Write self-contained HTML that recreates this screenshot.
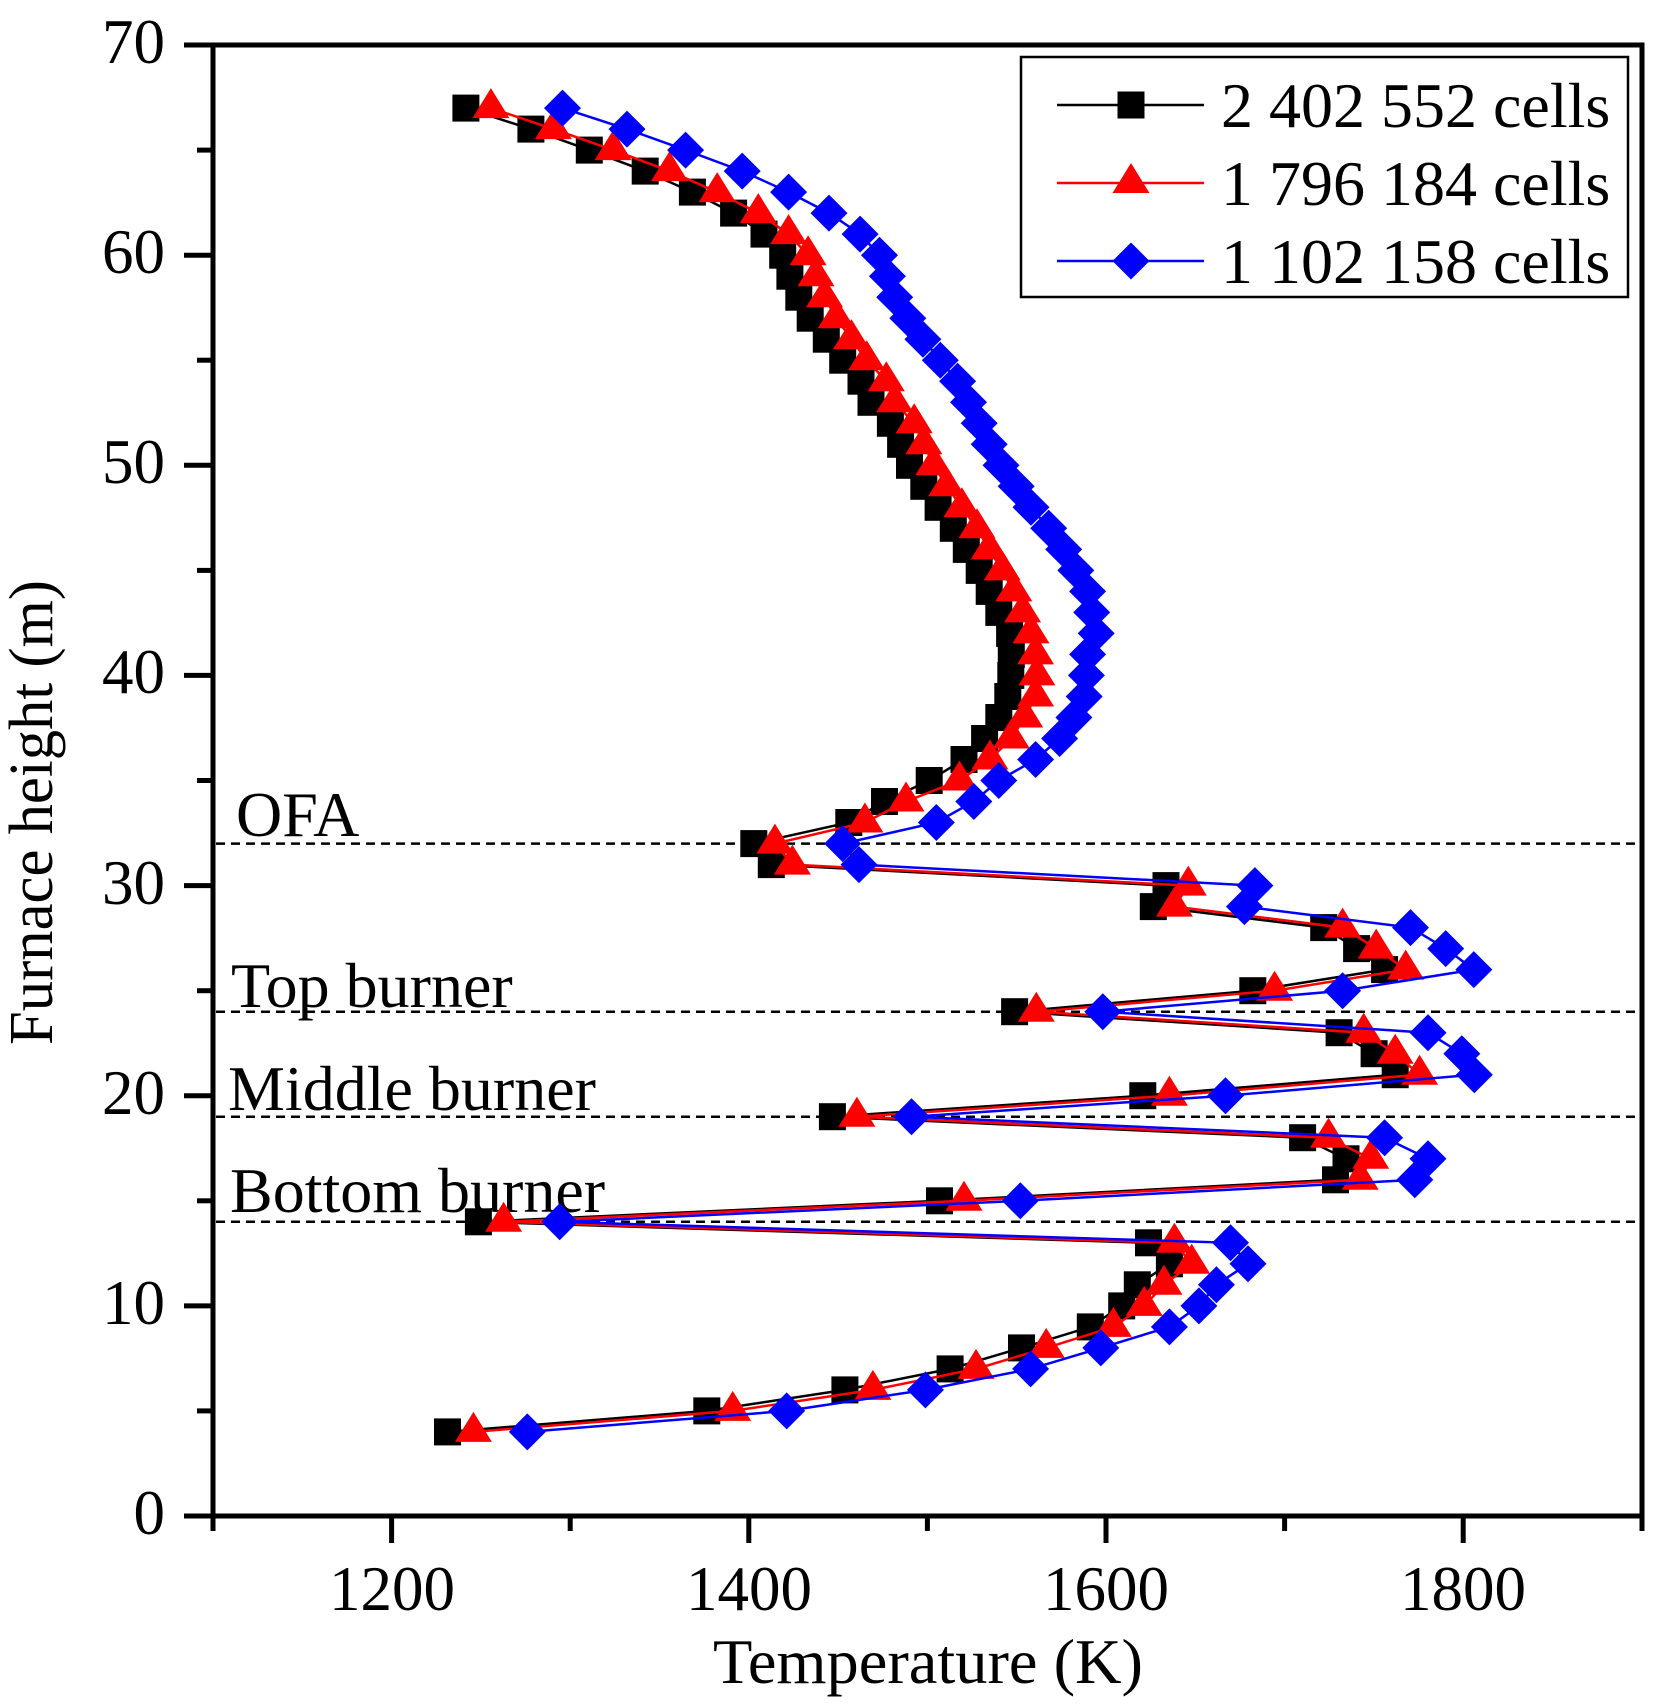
<!DOCTYPE html>
<html>
<head>
<meta charset="utf-8">
<style>
html,body{margin:0;padding:0;background:#fff;}
svg{display:block;}
text{font-family:"Liberation Serif","Times New Roman",serif;fill:#000;}
</style>
</head>
<body>
<svg width="1669" height="1706" viewBox="0 0 1669 1706" xmlns="http://www.w3.org/2000/svg">
<defs>
<marker id="msq" markerUnits="userSpaceOnUse" markerWidth="30" markerHeight="30" refX="15" refY="15" orient="0" overflow="visible">
<rect x="1.5" y="1.5" width="27" height="27" fill="#000"/>
</marker>
<marker id="mtri" markerUnits="userSpaceOnUse" markerWidth="40" markerHeight="34" refX="20" refY="21" orient="0" overflow="visible">
<polygon points="20,1 38.5,31 1.5,31" fill="#ff0000"/>
</marker>
<marker id="mdia" markerUnits="userSpaceOnUse" markerWidth="40" markerHeight="40" refX="20" refY="20" orient="0" overflow="visible">
<polygon points="20,1.5 38.5,20 20,38.5 1.5,20" fill="#0000ff"/>
</marker>
</defs>

<!-- dashed reference lines -->
<g stroke="#000" stroke-width="2.5" stroke-dasharray="9,6" fill="none">
<line x1="216" y1="843.6" x2="1640" y2="843.6"/>
<line x1="216" y1="1011.7" x2="1640" y2="1011.7"/>
<line x1="216" y1="1116.7" x2="1640" y2="1116.7"/>
<line x1="216" y1="1221.8" x2="1640" y2="1221.8"/>
</g>

<!-- annotations -->
<text x="236" y="836" font-size="64">OFA</text>
<text x="231" y="1007" font-size="64">Top burner</text>
<text x="228" y="1110" font-size="64">Middle burner</text>
<text x="230" y="1212" font-size="64">Bottom burner</text>

<!-- black series -->
<polyline fill="none" stroke="#000" stroke-width="2.5" marker-start="url(#msq)" marker-mid="url(#msq)" marker-end="url(#msq)"
points="447.5,1431.9 706.8,1410.9 844.9,1389.9 950.1,1368.9 1021.5,1347.9 1090.3,1326.9 1121.7,1305.9 1137.3,1284.8 1169.4,1263.8 1148.5,1242.8 478.4,1221.8 939.5,1200.8 1335.5,1179.8 1346,1158.8 1302.6,1137.7 832.4,1116.7 1142.8,1095.7 1395.2,1074.7 1374.1,1053.7 1339.1,1032.7 1014.6,1011.7 1252.8,990.7 1384.6,969.6 1356.6,948.6 1323.7,927.6 1153.3,906.6 1166,885.6 771.3,864.6 753.8,843.6 848.8,822.5 884.5,801.5 929.2,780.5 964,759.5 984.6,738.5 998.8,717.5 1007.8,696.5 1010.8,675.4 1011.3,654.4 1009.6,633.4 998.8,612.4 989.2,591.4 979.2,570.4 966.3,549.4 953.3,528.3 938.1,507.3 923.8,486.3 909.5,465.3 900.6,444.3 890.4,423.3 871,402.3 861,381.2 842.7,360.2 826.3,339.2 810.2,318.2 798.8,297.2 789.9,276.2 782.7,255.2 764,234.1 733.6,213.1 692.4,192.1 645.2,171.1 589.3,150.1 530.9,129.1 465.9,108.1"/>

<!-- red series -->
<polyline fill="none" stroke="#ff0000" stroke-width="2.5" marker-start="url(#mtri)" marker-mid="url(#mtri)" marker-end="url(#mtri)"
points="473.4,1431.9 732.7,1410.9 872.9,1389.9 976,1368.9 1046.2,1347.9 1113.3,1326.9 1144.2,1305.9 1163.9,1284.8 1191.7,1263.8 1174.4,1242.8 503.6,1221.8 964,1200.8 1360.2,1179.8 1370.7,1158.8 1328.5,1137.7 856.9,1116.7 1169.4,1095.7 1419.6,1074.7 1395.2,1053.7 1363.7,1032.7 1036.3,1011.7 1274.6,990.7 1405.7,969.6 1376.2,948.6 1342.6,927.6 1174.4,906.6 1188.3,885.6 792.4,864.6 774.9,843.6 864.9,822.5 906,801.5 959.5,780.5 989.9,759.5 1011.3,738.5 1024.7,717.5 1035.6,696.5 1036.9,675.4 1035.6,654.4 1031,633.4 1022.6,612.4 1013.8,591.4 1002.2,570.4 989.2,549.4 977,528.3 961.9,507.3 946.7,486.3 933.8,465.3 923.8,444.3 914.2,423.3 894.7,402.3 886.3,381.2 866.7,360.2 851.5,339.2 836.3,318.2 824.5,297.2 816,276.2 808.1,255.2 788.6,234.1 758.3,213.1 717.2,192.1 669.5,171.1 613.1,150.1 553.4,129.1 490.9,108.1"/>

<!-- blue series -->
<polyline fill="none" stroke="#0000ff" stroke-width="2.5" marker-start="url(#mdia)" marker-mid="url(#mdia)" marker-end="url(#mdia)"
points="527.3,1431.9 786.7,1410.9 925.4,1389.9 1030.6,1368.9 1100.8,1347.9 1169.4,1326.9 1198.9,1305.9 1216.4,1284.8 1248,1263.8 1230.5,1242.8 559.7,1221.8 1020.3,1200.8 1414.8,1179.8 1428,1158.8 1384.6,1137.7 911.5,1116.7 1225.5,1095.7 1474.3,1074.7 1461.8,1053.7 1428,1032.7 1102.8,1011.7 1342.6,990.7 1473.8,969.6 1445.7,948.6 1410.5,927.6 1244.4,906.6 1254.9,885.6 859,864.6 842.7,843.6 936.3,822.5 973.8,801.5 998.8,780.5 1035.6,759.5 1059.6,738.5 1073.9,717.5 1084.2,696.5 1086.4,675.4 1087.6,654.4 1096.2,633.4 1091.7,612.4 1087.6,591.4 1075.8,570.4 1063.7,549.4 1048.7,528.3 1031,507.3 1016.2,486.3 1001,465.3 989.2,444.3 979.2,423.3 968.5,402.3 957.6,381.2 940.3,360.2 922.9,339.2 907.8,318.2 894.7,297.2 887.4,276.2 879.5,255.2 860.1,234.1 829,213.1 788.6,192.1 742.2,171.1 685.6,150.1 627,129.1 562.5,108.1"/>

<!-- axes frame -->
<rect x="213" y="45" width="1429" height="1471" fill="none" stroke="#000" stroke-width="5"/>

<!-- y ticks -->
<g stroke="#000" stroke-width="5">
<line x1="184" y1="1516" x2="213" y2="1516"/>
<line x1="184" y1="1305.9" x2="213" y2="1305.9"/>
<line x1="184" y1="1095.7" x2="213" y2="1095.7"/>
<line x1="184" y1="885.6" x2="213" y2="885.6"/>
<line x1="184" y1="675.4" x2="213" y2="675.4"/>
<line x1="184" y1="465.3" x2="213" y2="465.3"/>
<line x1="184" y1="255.2" x2="213" y2="255.2"/>
<line x1="184" y1="45" x2="213" y2="45"/>
<line x1="197" y1="1410.9" x2="213" y2="1410.9"/>
<line x1="197" y1="1200.8" x2="213" y2="1200.8"/>
<line x1="197" y1="990.7" x2="213" y2="990.7"/>
<line x1="197" y1="780.5" x2="213" y2="780.5"/>
<line x1="197" y1="570.4" x2="213" y2="570.4"/>
<line x1="197" y1="360.2" x2="213" y2="360.2"/>
<line x1="197" y1="150.1" x2="213" y2="150.1"/>
</g>
<!-- x ticks -->
<g stroke="#000" stroke-width="5">
<line x1="391.6" y1="1516" x2="391.6" y2="1543"/>
<line x1="748.8" y1="1516" x2="748.8" y2="1543"/>
<line x1="1106" y1="1516" x2="1106" y2="1543"/>
<line x1="1463.2" y1="1516" x2="1463.2" y2="1543"/>
<line x1="213" y1="1516" x2="213" y2="1531"/>
<line x1="570.2" y1="1516" x2="570.2" y2="1531"/>
<line x1="927.4" y1="1516" x2="927.4" y2="1531"/>
<line x1="1284.6" y1="1516" x2="1284.6" y2="1531"/>
<line x1="1642" y1="1516" x2="1642" y2="1531"/>
</g>

<!-- y tick labels -->
<g font-size="63" text-anchor="end">
<text x="165" y="1534">0</text>
<text x="165" y="1324">10</text>
<text x="165" y="1114">20</text>
<text x="165" y="904">30</text>
<text x="165" y="693">40</text>
<text x="165" y="483">50</text>
<text x="165" y="273">60</text>
<text x="165" y="63">70</text>
</g>
<!-- x tick labels -->
<g font-size="63" text-anchor="middle">
<text x="392" y="1610">1200</text>
<text x="749" y="1610">1400</text>
<text x="1106" y="1610">1600</text>
<text x="1463" y="1610">1800</text>
</g>

<!-- axis titles -->
<text x="713" y="1683" font-size="64" textLength="430" lengthAdjust="spacingAndGlyphs">Temperature (K)</text>
<text transform="translate(52,1045) rotate(-90)" x="0" y="0" font-size="62" textLength="465" lengthAdjust="spacingAndGlyphs">Furnace height (m)</text>

<!-- legend -->
<rect x="1021" y="57" width="607" height="240" fill="#fff" stroke="#000" stroke-width="2.5"/>
<line x1="1057" y1="105" x2="1204" y2="105" stroke="#000" stroke-width="2.5"/>
<rect x="1117.5" y="91.5" width="27" height="27" fill="#000"/>
<text x="1221" y="127" font-size="64">2 402 552 cells</text>
<line x1="1057" y1="183" x2="1204" y2="183" stroke="#ff0000" stroke-width="2.5"/>
<polygon points="1131,163 1149.5,193 1112.5,193" fill="#ff0000"/>
<text x="1221" y="205" font-size="64">1 796 184 cells</text>
<line x1="1057" y1="261" x2="1204" y2="261" stroke="#0000ff" stroke-width="2.5"/>
<polygon points="1131,242.5 1149.5,261 1131,279.5 1112.5,261" fill="#0000ff"/>
<text x="1221" y="283" font-size="64">1 102 158 cells</text>
</svg>
</body>
</html>
